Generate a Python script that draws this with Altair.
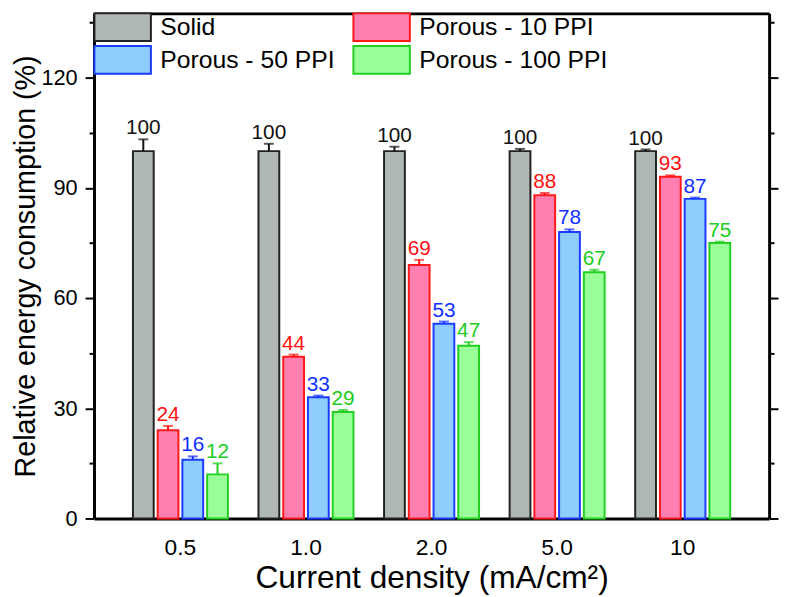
import altair as alt
import pandas as pd

densities = ["0.5", "1.0", "2.0", "5.0", "10"]
series = ["Solid", "Porous - 10 PPI", "Porous - 50 PPI", "Porous - 100 PPI"]
solid = [100, 100, 100, 100, 100]
ppi10 = [24, 44, 69, 88, 93]
ppi50 = [16, 33, 53, 78, 87]
ppi100 = [12, 29, 47, 67, 75]
err_solid = [3.2, 2.0, 1.2, 0.6, 0.45]
err_10 = [1.2, 0.6, 1.4, 0.6, 0.4]
err_50 = [0.9, 0.45, 0.6, 0.7, 0.35]
err_100 = [3.0, 0.55, 1.0, 0.7, 0.35]

fills = ["#b0b8b4", "#ff80b0", "#8fcdfc", "#99ff99"]
strokes = ["#222222", "#ff1a1a", "#1a3cff", "#22d022"]
text_colors = ["#111111", "#ff1010", "#1030ff", "#20cc20"]

major_ticks = [0, 30, 60, 90, 120]
minor_ticks = [15, 45, 75, 105, 135]

rows = []
for s, vals, errs in zip(series, [solid, ppi10, ppi50, ppi100],
                         [err_solid, err_10, err_50, err_100]):
    for d, v, e in zip(densities, vals, errs):
        rows.append({"density": d, "series": s, "value": v, "hi": v + e,
                     "label": str(v)})
df = pd.DataFrame(rows)

FONT = "Liberation Sans"
x_scale = alt.Scale(paddingInner=0.2435, paddingOuter=0.31)

x_bottom = alt.X("density:N", sort=densities, scale=x_scale,
                 axis=alt.Axis(orient="bottom", title="Current density (mA/cm²)",
                               labelAngle=0, ticks=False, domain=True,
                               domainColor="black", domainWidth=3, grid=False,
                               labelFontSize=23, labelPadding=18,
                               titleFontSize=32, titlePadding=4,
                               labelColor="black", titleColor="black",
                               labelFont=FONT, titleFont=FONT,
                               titleFontWeight="normal"))
x_top = alt.X("density:N", sort=densities, scale=x_scale,
              axis=alt.Axis(orient="top", title=None, labels=False, ticks=False,
                            domain=True, domainColor="black", domainWidth=3,
                            grid=False))
x_none = alt.X("density:N", sort=densities, scale=x_scale, axis=None)
xo_enc = alt.XOffset("series:N", sort=series,
                     scale=alt.Scale(paddingInner=0.16, paddingOuter=0))
yscale = alt.Scale(domain=[0, 137.5], nice=False, zero=True)


def yaxis(orient, values, size, labels, domain, title=None):
    return alt.Axis(orient=orient, values=values, tickSize=size, tickWidth=2,
                    tickColor="black", labels=labels, domain=domain,
                    domainColor="black", domainWidth=3, grid=False,
                    title=title, labelFontSize=22, labelPadding=8,
                    labelColor="black", labelFont=FONT, titleFont=FONT,
                    titleFontSize=29, titlePadding=0, titleColor="black",
                    titleFontWeight="normal")


legend = alt.Legend(orient="none", legendX=14, legendY=-1, columns=2,
                    direction="horizontal",
                    title=None, symbolType="M-2.04,-1L2.04,-1L2.04,1L-2.04,1Z",
                    symbolSize=784, symbolStrokeWidth=2, symbolOpacity=1,
                    labelFontSize=25, labelFont=FONT, labelColor="black",
                    labelLimit=400,
                    labelOffset=23, columnPadding=14, rowPadding=-7,
                    padding=0)

fill_scale = alt.Scale(domain=series, range=fills)
stroke_scale = alt.Scale(domain=series, range=strokes)
text_scale = alt.Scale(domain=series, range=text_colors)

base = alt.Chart(df)

bars = base.mark_bar(strokeWidth=2).encode(
    x=x_bottom, xOffset=xo_enc,
    y=alt.Y("value:Q", scale=yscale,
            axis=yaxis("left", major_ticks, 9, True, True,
                       "Relative energy consumption (%)")),
    fill=alt.Fill("series:N", sort=series, scale=fill_scale, legend=legend),
    stroke=alt.Stroke("series:N", sort=series, scale=stroke_scale, legend=legend),
)

rules = base.mark_rule(strokeWidth=2).encode(
    x=x_top, xOffset=xo_enc,
    y=alt.Y("value:Q", scale=yscale,
            axis=yaxis("right", major_ticks, 9, False, True)),
    y2="hi:Q",
    color=alt.Color("series:N", sort=series, scale=text_scale, legend=None),
)

caps = base.mark_tick(size=10, thickness=2).encode(
    x=x_none, xOffset=xo_enc,
    y=alt.Y("hi:Q", scale=yscale,
            axis=yaxis("left", minor_ticks, 5, False, False)),
    color=alt.Color("series:N", sort=series, scale=text_scale, legend=None),
)

texts = base.mark_text(fontSize=21, baseline="bottom", dy=-1, font=FONT).encode(
    x=x_none, xOffset=xo_enc,
    y=alt.Y("hi:Q", scale=yscale,
            axis=yaxis("right", minor_ticks, 5, False, False)),
    text="label:N",
    color=alt.Color("series:N", sort=series, scale=text_scale, legend=None),
)

chart = alt.layer(bars, rules, caps, texts).resolve_axis(
    x="independent", y="independent"
).properties(
    width=683, height=511,
    autosize=alt.AutoSizeParams(type="none"),
    padding={"left": 87, "top": 2, "right": 10, "bottom": 74},
    background="white",
).configure_view(strokeWidth=0)

chart.save("out.html", embed_options={"renderer": "svg", "actions": False})
